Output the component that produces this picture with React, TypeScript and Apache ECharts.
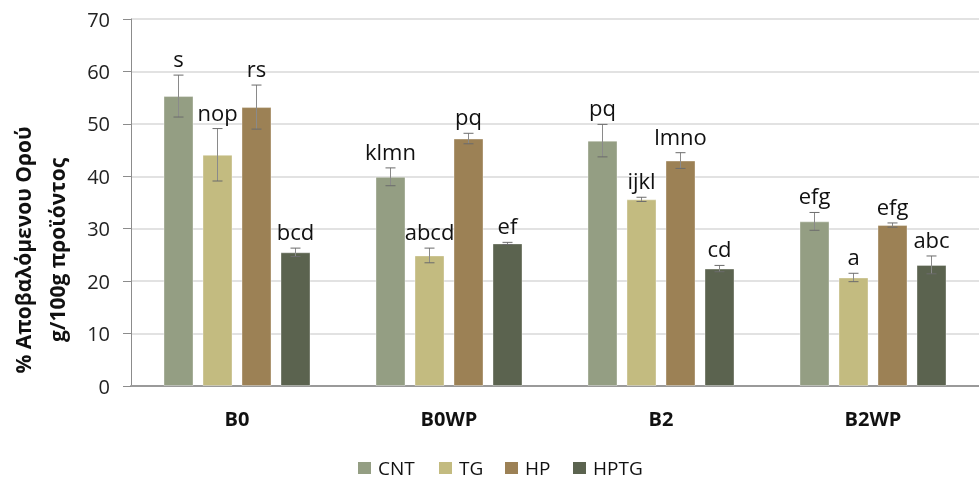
import React, { useEffect, useRef } from "react";
import * as echarts from "echarts";

const categories = ["B0", "B0WP", "B2", "B2WP"];
const seriesNames = ["CNT", "TG", "HP", "HPTG"];
const colors = ["#949E83", "#C3BB80", "#9C8155", "#5B634F"];

const cntValues = [55.3, 39.9, 46.8, 31.4];
const tgValues = [44.1, 24.9, 35.6, 20.7];
const hpValues = [53.2, 47.2, 43.0, 30.7];
const hptgValues = [25.5, 27.2, 22.4, 23.1];

const cntErrors = [4.0, 1.7, 3.1, 1.7];
const tgErrors = [5.0, 1.4, 0.4, 0.8];
const hpErrors = [4.2, 1.0, 1.5, 0.4];
const hptgErrors = [0.8, 0.2, 0.6, 1.7];

const cntLetters = ["s", "klmn", "pq", "efg"];
const tgLetters = ["nop", "abcd", "ijkl", "a"];
const hpLetters = ["rs", "pq", "lmno", "efg"];
const hptgLetters = ["bcd", "ef", "cd", "abc"];

const yTicks = [0, 10, 20, 30, 40, 50, 60, 70];

const allValues = [cntValues, tgValues, hpValues, hptgValues];
const allErrors = [cntErrors, tgErrors, hpErrors, hptgErrors];
const allLetters = [cntLetters, tgLetters, hpLetters, hptgLetters];

const BAR_W = 30;
const BAR_PITCH = 39;
const FONT = "'Open Sans', sans-serif";
const LEGEND_X = [358, 439, 505, 573];
const LEGEND_Y = 468;

export default function App() {
  const ref = useRef<HTMLDivElement>(null);
  useEffect(() => {
    if (!ref.current) return;
    const chart = echarts.init(ref.current, null, { renderer: "svg" });

    const barSeries = seriesNames.map((name, i) => ({
      name,
      type: "bar",
      data: allValues[i],
      barWidth: BAR_W,
      barGap: "30%",
      itemStyle: { color: colors[i], borderColor: "rgba(255,255,255,0.35)", borderWidth: 1 },
      z: 2,
    }));

    const errSeries = seriesNames.map((name, i) => ({
      name: "err-" + name,
      type: "custom",
      z: 5,
      data: allValues[i].map((v, c) => [c, v, allErrors[i][c]]),
      renderItem: (params: any, api: any) => {
        const c = api.value(0);
        const v = api.value(1);
        const e = api.value(2);
        const top = api.coord([c, v + e]);
        const bot = api.coord([c, v - e]);
        const offset = -((4 * BAR_PITCH - (BAR_PITCH - BAR_W)) / 2) + BAR_W / 2 + i * BAR_PITCH;
        const x = top[0] + offset;
        const cap = 5;
        const stroke = "#6b6b6b";
        return {
          type: "group",
          children: [
            { type: "line", shape: { x1: x, y1: top[1], x2: x, y2: bot[1] }, style: { stroke: "#8a8a8a", lineWidth: 1 } },
            { type: "line", shape: { x1: x - cap, y1: top[1], x2: x + cap, y2: top[1] }, style: { stroke, lineWidth: 1 } },
            { type: "line", shape: { x1: x - cap, y1: bot[1], x2: x + cap, y2: bot[1] }, style: { stroke, lineWidth: 1 } },
            {
              type: "text",
              style: {
                text: allLetters[i][params.dataIndex],
                x,
                y: top[1] - 17,
                align: "center",
                verticalAlign: "middle",
                fill: "#111",
                font: "22px " + FONT,
              },
            },
          ],
        };
      },
    }));

    const legendGraphics: any[] = [];
    seriesNames.forEach((name, i) => {
      legendGraphics.push({
        type: "rect",
        shape: { x: LEGEND_X[i], y: LEGEND_Y - 6, width: 13, height: 12 },
        style: { fill: colors[i] },
      });
      legendGraphics.push({
        type: "text",
        x: LEGEND_X[i] + 20,
        y: LEGEND_Y,
        style: {
          text: name,
          align: "left",
          verticalAlign: "middle",
          fill: "#111",
          font: "19px " + FONT,
        },
      });
    });

    chart.setOption({
      animation: false,
      grid: { left: 131, top: 19, height: 367, width: 860, containLabel: false },
      xAxis: {
        type: "category",
        data: categories,
        axisLine: { lineStyle: { color: "#9a9a9a", width: 2 } },
        axisTick: { show: false },
        axisLabel: { margin: 22, fontFamily: FONT, fontSize: 20, fontWeight: "bold", color: "#111" },
      },
      yAxis: {
        type: "value",
        min: 0,
        max: 70,
        interval: 10,
        axisLine: { show: true, lineStyle: { color: "#8c8c8c" } },
        axisTick: { show: true, length: 8, lineStyle: { color: "#8c8c8c" } },
        splitLine: { lineStyle: { color: "#d9d9d9", width: 1.5 } },
        axisLabel: {
          margin: 21,
          fontFamily: FONT,
          fontSize: 20,
          color: "#222",
          formatter: (v: number) => (yTicks.includes(v) ? String(v) : ""),
        },
      },
      graphic: [
        {
          type: "text",
          x: 40,
          y: 250,
          rotation: Math.PI / 2,
          style: {
            text: "% Αποβαλόμενου Ορού\ng/100g προϊόντος",
            align: "center",
            verticalAlign: "middle",
            lineHeight: 34,
            fill: "#111",
            font: "bold 21px " + FONT,
          },
        },
        ...legendGraphics,
      ],
      series: [...barSeries, ...errSeries],
    });
    return () => chart.dispose();
  }, []);
  return <div ref={ref} style={{ position: "fixed", left: 0, top: 0, width: 979, height: 484 }} />;
}
